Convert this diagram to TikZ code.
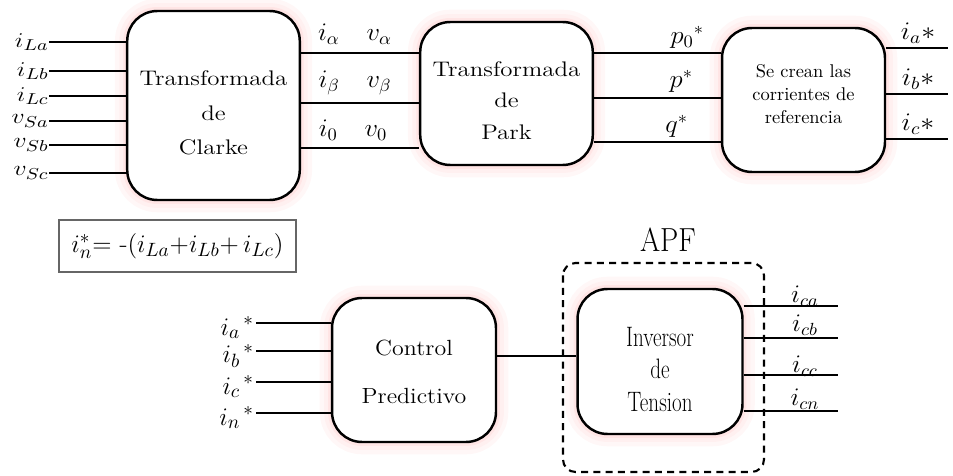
\documentclass[tikz,border=0pt]{standalone}
\usepackage{graphicx}
\newcommand{\sx}[2]{\scalebox{#1}[1]{#2}}

\tikzset{
  blk/.style={draw, line width=1.4pt, rounded corners=0.6cm, fill=white, inner sep=0pt,
    preaction={draw=red!3, line width=14pt},
    preaction={draw=red!6, line width=9pt},
    preaction={draw=red!10, line width=4.5pt}},
  wire/.style={line width=1.1pt},
  lbl/.style={inner sep=1pt, font=\fontsize{14.5}{16}\selectfont},
}

\begin{document}
\begin{tikzpicture}[x=0.02cm, y=-0.02cm]
  \useasboundingbox (0,0) rectangle (953,476);

  % bloques
  \node[blk, minimum width=3.26cm, minimum height=3.78cm, font=\fontsize{12}{19.5}\selectfont] (clarke) at (213.5,105.5)
    {\raisebox{-4.5pt}[\height][\depth]{\sx{1.18}{\begin{tabular}{c}Transformada\\de\\Clarke\end{tabular}}}};
  \node[blk, minimum width=3.26cm, minimum height=2.86cm, font=\fontsize{12}{18}\selectfont] (park) at (506.5,93.5)
    {\raisebox{-4.5pt}[\height][\depth]{\sx{1.18}{\begin{tabular}{c}Transformada\\de\\Park\end{tabular}}}};
  \node[blk, minimum width=3.26cm, minimum height=2.88cm, font=\fontsize{10.5}{13}\selectfont] (ref) at (803.5,100)
    {\raisebox{2.3pt}[\height][\depth]{\begin{tabular}{c}Se crean las\\corrientes de\\referencia\end{tabular}}};
  \node[blk, minimum width=3.28cm, minimum height=2.88cm, font=\fontsize{12.5}{27}\selectfont] (control) at (414,370)
    {\sx{1.09}{\begin{tabular}{c}Control\\Predictivo\end{tabular}}};
  \node[blk, minimum width=3.3cm, minimum height=2.9cm, font=\fontsize{16}{18.5}\selectfont] (inv) at (660,361.5)
    {\raisebox{-6pt}[\height][\depth]{\sx{0.75}{\begin{tabular}{c}Inversor\\de\\Tension\end{tabular}}}};

  \draw[dashed, line width=1.2pt, dash pattern=on 4pt off 3pt, rounded corners=0.25cm] (563,263) rectangle (764,472);

  \node[font=\fontsize{19}{21}\selectfont] (apf) at (668,240) {\sx{0.87}{APF}};

  \node[draw=gray!80!black, line width=0.6pt, minimum width=4.74cm, minimum height=1.04cm, inner sep=0pt,
    font=\fontsize{15}{17}\selectfont] (inref) at (177.5,246)
    {$i_n^*{=}$ -$(i_{La}{+}i_{Lb}{+}\,i_{Lc})$};

  % entradas Clarke
  \foreach \y/\t [count=\i] in {42/i_{La}, 71/i_{Lb}, 96/i_{Lc}, 121/v_{Sa}, 145/v_{Sb}, 173/v_{Sc}}{
    \node[lbl, anchor=east, inner sep=0pt, font=\fontsize{12.5}{14}\selectfont] (cin\i) at (49,\y) {\sx{1.22}{$\t$}};
    \draw[wire] (cin\i.east) -- (clarke.west |- cin\i.east);
  }

  % Clarke -> Park
  \foreach \y [count=\i] in {53, 103, 148}{
    \coordinate (cp\i) at (clarke.east |- 0,\y);
    \draw[wire] (cp\i) -- (park.west |- cp\i);
  }
  \node[lbl] (ia) at (355,34) {\sx{1.05}{$i_\alpha\quad v_\alpha$}};
  \node[lbl] (ib) at (355,83) {\sx{1.05}{$i_\beta\quad v_\beta$}};
  \node[lbl] (i0) at (353,130) {\sx{1.05}{$i_0\quad v_0$}};

  % Park -> referencia
  \foreach \y [count=\i] in {53, 98, 142}{
    \coordinate (pr\i) at (park.east |- 0,\y);
    \draw[wire] (pr\i) -- (ref.west |- pr\i);
  }
  \node[lbl, anchor=east] (p0) at (706,37) {\sx{1.05}{$p_0{}^*$}};
  \node[lbl, anchor=east] (p) at (695,81) {\sx{1.05}{$p^*$}};
  \node[lbl, anchor=east] (q) at (690,126) {\sx{1.05}{$q^*$}};

  % salidas referencia
  \foreach \y/\t [count=\i] in {48/a, 94/b, 139/c}{
    \coordinate (ro\i) at (948,\y);
    \draw[wire] (ref.east |- ro\i) -- (ro\i);
    \node[lbl] (iref\i) at (918,\y-15) {\sx{1.1}{$i_\t{*}$}};
  }

  % entradas control
  \foreach \y/\t [count=\i] in {323/a, 351/b, 382/c, 413/n}{
    \node[lbl, anchor=east, font=\fontsize{15.5}{17}\selectfont] (ctl\i) at (256,\y+5) {$i_\t{}^{\,*}$};
    \draw[wire] (ctl\i.east |- 0,\y) -- (control.west |- 0,\y);
  }

  % control -> inversor
  \draw[wire] (control.east |- 0,356) -- (inv.west |- 0,356);

  % salidas inversor
  \foreach \y/\t/\d [count=\i] in {306/ca/10, 338/cb/13, 375/cc/9, 411/cn/12}{
    \coordinate (io\i) at (838,\y);
    \draw[wire] (inv.east |- io\i) -- (io\i);
    \node[lbl] (ic\i) at (805,\y-\d) {\sx{1.05}{$i_{\t}$}};
  }
\end{tikzpicture}
\end{document}
